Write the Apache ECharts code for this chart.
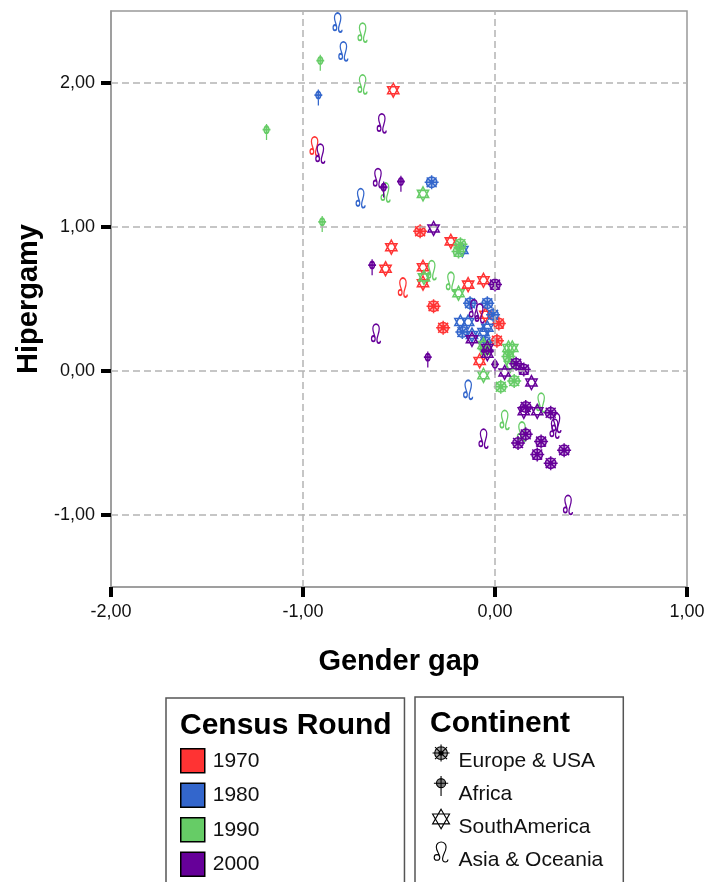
<!DOCTYPE html>
<html><head><meta charset="utf-8">
<script src="https://cdn.jsdelivr.net/npm/echarts@6/dist/echarts.min.js"></script>
<style>html,body{margin:0;padding:0;background:#fff}#c{width:708px;height:882px}</style>
</head><body><div id="c"></div>
<script>
// ---- Data (Gender gap, Hipergamy) ----
const rounds = ['1970', '1980', '1990', '2000'];
const continents = ['Europe & USA', 'Africa', 'SouthAmerica', 'Asia & Oceania'];
const xTicks = [-2, -1, 0, 1];
const yTicks = [-1, 0, 1, 2];

const eu1970 = [[-0.39,0.97],[-0.32,0.45],[-0.27,0.30],[0.02,0.33],[0.01,0.21]];
const af1970 = [];
const sa1970 = [[-0.53,1.95],[-0.23,0.90],[-0.54,0.86],[-0.57,0.71],[-0.375,0.72],[-0.375,0.61],[-0.14,0.60],[-0.06,0.63],[-0.05,0.39],[-0.08,0.07]];
const as1970 = [[-0.94,1.56],[-0.48,0.58]];

const eu1980 = [[-0.33,1.31],[-0.13,0.47],[-0.04,0.47],[-0.01,0.39],[-0.17,0.27],[-0.05,0.20]];
const af1980 = [[-0.92,1.90]];
const sa1980 = [[-0.17,0.84],[-0.18,0.34],[-0.14,0.34],[-0.06,0.27],[-0.04,0.30],[-0.12,0.25]];
const as1980 = [[-0.82,2.42],[-0.79,2.22],[-0.70,1.20],[-0.14,-0.13]];

const eu1990 = [[-0.18,0.88],[-0.19,0.83],[0.07,0.10],[0.10,-0.07],[0.03,-0.11],[-0.05,0.15]];
const af1990 = [[-1.19,1.66],[-0.91,2.14],[-0.90,1.02]];
const sa1990 = [[-0.375,1.23],[-0.37,0.65],[-0.19,0.54],[0.07,0.16],[0.09,0.16],[0.08,0.04],[-0.06,-0.03],[-0.06,0.18]];
const as1990 = [[-0.69,2.35],[-0.69,1.99],[-0.57,1.24],[-0.33,0.70],[-0.23,0.62],[0.24,-0.22],[0.05,-0.34],[0.14,-0.42]];

const eu2000 = [[0.0,0.60],[0.11,0.05],[0.15,0.01],[0.16,-0.25],[0.29,-0.29],[0.16,-0.44],[0.12,-0.50],[0.24,-0.49],[0.36,-0.55],[0.22,-0.58],[0.29,-0.64]];
const af2000 = [[-0.58,1.26],[-0.49,1.30],[-0.64,0.72],[-0.35,0.08],[0.0,0.03]];
const sa2000 = [[-0.32,0.99],[-0.12,0.22],[-0.04,0.16],[-0.04,0.12],[0.05,-0.01],[0.19,-0.08],[0.15,-0.28],[0.22,-0.28]];
const as2000 = [[-0.59,1.72],[-0.91,1.51],[-0.61,1.34],[-0.62,0.26],[-0.11,0.43],[-0.08,0.40],[0.32,-0.36],[0.31,-0.40],[-0.06,-0.47],[0.38,-0.93]];

const dataByRound = {
  '1970': [eu1970, af1970, sa1970, as1970],
  '1980': [eu1980, af1980, sa1980, as1980],
  '1990': [eu1990, af1990, sa1990, as1990],
  '2000': [eu2000, af2000, sa2000, as2000]
};

// ---- Styles ----
const roundColors = {'1970':'#ff3333','1980':'#3366cc','1990':'#66cc66','2000':'#660099'};
const FONT = '"Liberation Sans", Arial, sans-serif';
const wheelPath = 'path://M10.5,6 A4.5,4.5 0 1 1 1.5,6 A4.5,4.5 0 1 1 10.5,6 Z M7.5,6 A1.5,1.5 0 1 1 4.5,6 A1.5,1.5 0 1 1 7.5,6 Z M6,0 L6,12 M0,6 L12,6 M1.76,1.76 L10.24,10.24 M10.24,1.76 L1.76,10.24';
const africaPath = 'path://M8.2,5 A3.2,3.2 0 1 1 1.8,5 A3.2,3.2 0 1 1 8.2,5 Z M5,0 L5,14 M0,5 L10,5';
const starPath = 'path://M5,0 L9.33,7.5 L0.67,7.5 Z M5,10 L0.67,2.5 L9.33,2.5 Z';
const leoPath = 'path://M5,12.5 A2,2 0 1 1 1,12.5 A2,2 0 1 1 5,12.5 M5,12.5 C5,10 2.5,8 2.5,5 A3.5,3.5 0 0 1 9.5,5 C9.5,8.5 7,10.5 7,13.5 C7,15 8,15.8 9,15.8 C10,15.8 10.8,15 10.8,14';
const contSym = [
  {path: wheelPath, size: [14,14], fill: 0.35},
  {path: africaPath, size: [11,16], fill: 0.5},
  {path: starPath, size: [13,14], fill: 0},
  {path: leoPath, size: [13,19], fill: 0}
];
function rgba(hex, a){
  const n = parseInt(hex.slice(1),16);
  return 'rgba(' + ((n>>16)&255) + ',' + ((n>>8)&255) + ',' + (n&255) + ',' + a + ')';
}
const fmt = v => v.toFixed(2).replace('.', ',');

const series = [];
// gridlines series
series.push({
  type: 'scatter', name: 'grid', data: [], silent: true, z: 1,
  markLine: {
    silent: true, symbol: ['none','none'], label: {show: false},
    lineStyle: {type: [7,4], color: '#b4b4b4', width: 1.5},
    emphasis: {disabled: true},
    data: yTicks.map(v => ({yAxis: v})).concat([-1, 0].map(v => ({xAxis: v})))
  }
});
rounds.forEach(r => {
  continents.forEach((c, ci) => {
    const s = contSym[ci];
    series.push({
      type: 'scatter', name: r + ' ' + c, z: 3,
      symbol: s.path, symbolSize: s.size, symbolKeepAspect: true,
      itemStyle: {color: rgba(roundColors[r], s.fill), borderColor: roundColors[r], borderWidth: 1.5, opacity: 1},
      emphasis: {disabled: true},
      data: dataByRound[r][ci]
    });
  });
});
// legend-only series
rounds.forEach(r => series.push({type:'scatter', name: r, data: [], itemStyle: {color: roundColors[r], opacity: 1}}));
continents.forEach((c, ci) => series.push({type:'scatter', name: c, data: [], symbol: contSym[ci].path, itemStyle: {color: '#000', opacity: 1}}));

const option = {
  animation: false,
  backgroundColor: '#fff',
  textStyle: {fontFamily: FONT},
  title: [
    {text: 'Census Round', left: 180, top: 711, padding: 0, textStyle: {fontFamily: FONT, fontSize: 30, fontWeight: 'bold', color: '#000'}},
    {text: 'Continent', left: 430, top: 709, padding: 0, textStyle: {fontFamily: FONT, fontSize: 30, fontWeight: 'bold', color: '#000'}}
  ],
  grid: {left: 111, right: 21, top: 11, bottom: 295, show: true, borderColor: '#999', borderWidth: 1.5, containLabel: false},
  xAxis: {
    type: 'value', min: -2, max: 1, interval: 1,
    axisLine: {show: true, onZero: false, lineStyle: {color: '#999', width: 1.5}},
    axisTick: {show: true, length: 10, lineStyle: {color: '#000', width: 4}},
    axisLabel: {formatter: fmt, fontSize: 18, color: '#111', margin: 16, fontFamily: FONT},
    splitLine: {show: false},
    name: 'Gender gap', nameLocation: 'middle', nameGap: 60,
    nameTextStyle: {fontSize: 29, fontWeight: 'bold', color: '#000', fontFamily: FONT}
  },
  yAxis: {
    type: 'value', min: -1.5, max: 2.5, interval: 0.5,
    axisLine: {show: true, onZero: false, lineStyle: {color: '#999', width: 1.5}},
    axisTick: {show: true, length: 10, customValues: yTicks, lineStyle: {color: '#000', width: 4}},
    axisLabel: {formatter: fmt, customValues: yTicks, fontSize: 18, color: '#111', margin: 16, fontFamily: FONT},
    splitLine: {show: false},
    name: 'Hipergamy', nameLocation: 'middle', nameGap: 68,
    nameTextStyle: {fontSize: 29, fontWeight: 'bold', color: '#000', fontFamily: FONT}
  },
  legend: [
    {
      selectedMode: false, orient: 'vertical', left: 166, top: 698, height: 150,
      padding: [50, 145, 20, 14], itemWidth: 24, itemHeight: 24, itemGap: 9,
      borderColor: '#555', borderWidth: 1.5,
      textStyle: {fontSize: 21, color: '#111', fontFamily: FONT, padding: [0,0,0,3]},
      data: rounds.map(r => ({name: r, icon: 'rect', itemStyle: {color: roundColors[r], borderColor: '#000', borderWidth: 1.5, opacity: 1}}))
    },
    {
      selectedMode: false, orient: 'vertical', left: 415, top: 697, height: 160,
      padding: [47, 20, 20, 17], itemWidth: 17, itemHeight: 20, itemGap: 4,
      borderColor: '#555', borderWidth: 1.5,
      formatter: '{t|{name}}',
      textStyle: {fontSize: 21, color: '#111', fontFamily: FONT,
        rich: {t: {fontSize: 21, color: '#111', fontFamily: FONT, padding: [16, 0, 0, 4]}}},
      data: continents.map((c, ci) => ({name: c, icon: contSym[ci].path,
        itemStyle: {color: rgba('#000000', contSym[ci].fill), borderColor: '#000', borderWidth: 1.1, opacity: 1}}))
    }
  ],
  series: series
};
const chart = echarts.init(document.getElementById('c'), null, {renderer: 'canvas'});
chart.setOption(option);
</script>
</body></html>
